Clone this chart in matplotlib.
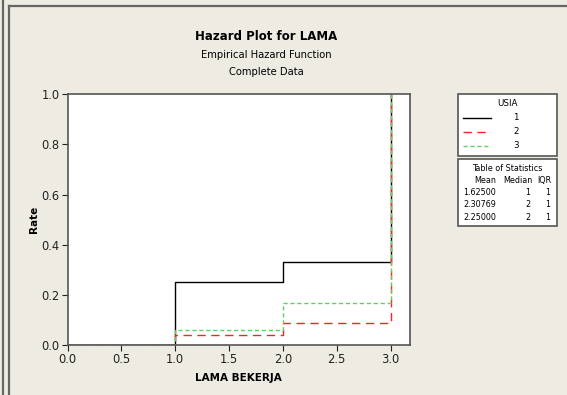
#!/usr/bin/env python3
"""Hazard plot for LAMA (empirical hazard function)"""

import matplotlib.pyplot as plt
from matplotlib.patches import Rectangle
from matplotlib.lines import Line2D

# data
times = [0, 1, 2, 3]
groups = ["1", "2", "3"]
hazard_1 = [0.0, 0.25, 0.333, 1.0]
hazard_2 = [0.0, 0.04, 0.09, 1.0]
hazard_3 = [0.0, 0.06, 0.167, 1.0]
stat_mean = ["1.62500", "2.30769", "2.25000"]
stat_median = ["1", "2", "2"]
stat_iqr = ["1", "1", "1"]

W, H = 567, 395
BG = "#EEEBE3"
EDGE = "#555555"


def fx(px):
    return px / W


def fy(py):
    return 1 - py / H


fig = plt.figure(figsize=(W / 100, H / 100), dpi=100, facecolor=BG)
plt.rcParams["font.family"] = "DejaVu Sans"

# outer frame lines
fig.add_artist(Line2D([fx(2.5), fx(2.5)], [0, 1], color="#666666", lw=1.6))
fig.add_artist(Line2D([fx(8.5), fx(8.5)], [0, fy(6)], color="#666666", lw=1.6))
fig.add_artist(Line2D([fx(8.5), 1], [fy(6), fy(6)], color="#666666", lw=1.6))

ax = fig.add_axes([fx(67.5), fy(345.3), fx(410) - fx(67.5), fy(94) - fy(345.3)])
ax.set_facecolor("white")

styles = [
    dict(color="black", lw=1.0, linestyle="-"),
    dict(color="#FF2020", lw=1.0, linestyle=(0, (6, 4))),
    dict(color="#66CC66", lw=1.0, linestyle=(0, (3, 2))),
]
for vals, st in zip([hazard_1, hazard_2, hazard_3], styles):
    ax.plot(times, vals, drawstyle="steps-post", **st)

ax.set_xlim(0, 3.18)
ax.set_ylim(0, 1.0)
ax.set_xticks([0, 0.5, 1.0, 1.5, 2.0, 2.5, 3.0])
ax.set_yticks([0, 0.2, 0.4, 0.6, 0.8, 1.0])
ax.xaxis.set_major_formatter(plt.FormatStrFormatter("%.1f"))
ax.yaxis.set_major_formatter(plt.FormatStrFormatter("%.1f"))
ax.tick_params(labelsize=8.3, length=4, width=0.8, colors="#222222", pad=1.5)
for s in ax.spines.values():
    s.set_color(EDGE)
    s.set_linewidth(1.2)
ax.set_xlabel("LAMA BEKERJA", fontsize=7.5, fontweight="bold", labelpad=5)
ax.set_ylabel("Rate", fontsize=7.5, fontweight="bold", labelpad=2)

# titles
fig.text(fx(266), fy(37), "Hazard Plot for LAMA", ha="center", va="center",
         fontsize=8.5, fontweight="bold")
fig.text(fx(266), fy(55), "Empirical Hazard Function", ha="center",
         va="center", fontsize=7.2)
fig.text(fx(266), fy(72), "Complete Data", ha="center", va="center",
         fontsize=7.2)

# legend box
fig.add_artist(Rectangle((fx(457.7), fy(155.7)), fx(557.3) - fx(457.7),
                         fy(94.3) - fy(155.7), transform=fig.transFigure,
                         facecolor="white", edgecolor=EDGE, lw=1.2))
fig.text(fx(507), fy(104), "USIA", ha="center", va="center", fontsize=6.3)
for i, (g, st) in enumerate(zip(groups, styles)):
    y = fy(118 + i * 14)
    fig.add_artist(Line2D([fx(463), fx(491)], [y, y], **st))
    fig.text(fx(516), y, g, ha="center", va="center", fontsize=6.3)

# statistics box
fig.add_artist(Rectangle((fx(457.7), fy(226)), fx(557.3) - fx(457.7),
                         fy(159) - fy(226), transform=fig.transFigure,
                         facecolor="white", edgecolor=EDGE, lw=1.2))
fig.text(fx(507), fy(171), "Table of Statistics", ha="center",
         va="baseline", fontsize=5.8)
for x, txt in [(496, "Mean"), (532, "Median"), (551, "IQR")]:
    fig.text(fx(x), fy(183), txt, ha="right", va="baseline", fontsize=5.8)
for i in range(len(stat_mean)):
    y = fy(195 + i * 12.3)
    fig.text(fx(496), y, stat_mean[i], ha="right", va="baseline", fontsize=5.8)
    fig.text(fx(530), y, stat_median[i], ha="right", va="baseline",
             fontsize=5.8)
    fig.text(fx(550), y, stat_iqr[i], ha="right", va="baseline", fontsize=5.8)

fig.savefig("out.png", dpi=100, facecolor=BG)
